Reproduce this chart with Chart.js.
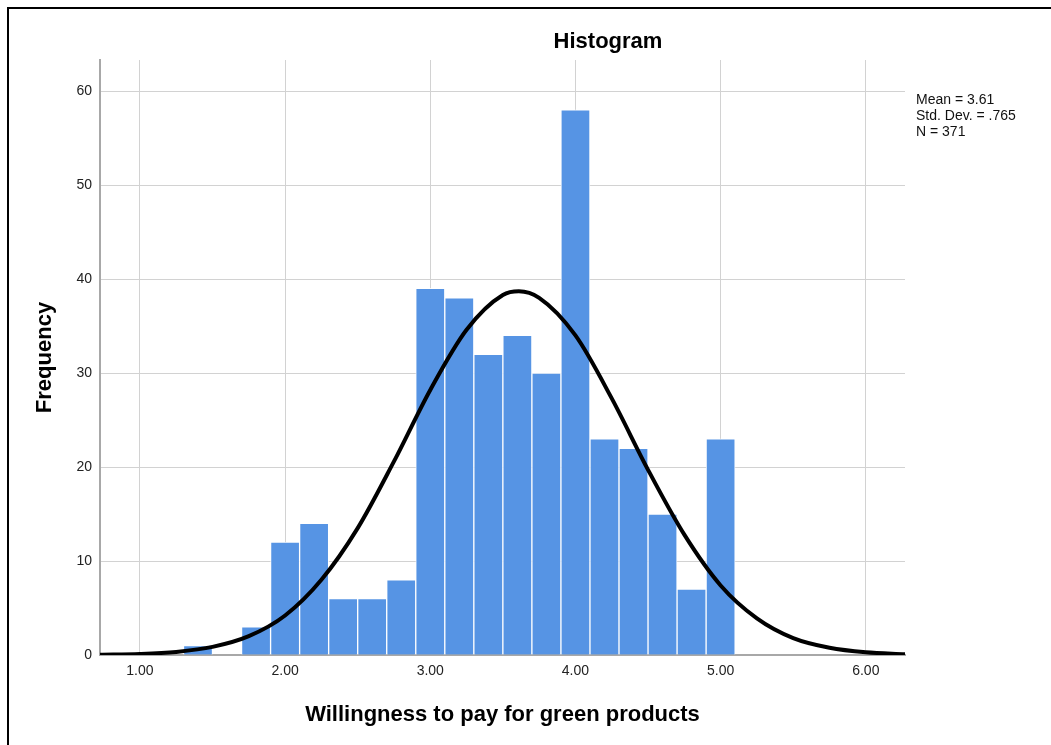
<!DOCTYPE html>
<html>
<head>
<meta charset="utf-8">
<script src="https://cdn.jsdelivr.net/npm/chart.js@4.4.1/dist/chart.umd.min.js"></script>
<style>
    html, body { margin: 0; padding: 0; background: #ffffff; }
    #wrap { position: relative; width: 1051px; height: 745px; overflow: hidden; }
    #frame {
        position: absolute; left: 7px; top: 7px;
        width: 1100px; height: 800px;
        border: 2px solid #000000;
        pointer-events: none;
    }
</style>
</head>
<body>
<div id="wrap">
    <canvas id="hist"></canvas>
    <div id="frame"></div>
</div>
<script>
// ========================================
// Data
// ========================================
const binCenters = [1.4, 1.6, 1.8, 2.0, 2.2, 2.4, 2.6, 2.8, 3.0, 3.2, 3.4, 3.6, 3.8, 4.0, 4.2, 4.4, 4.6, 4.8, 5.0];
const binCounts  = [1,   0,   3,   12,  14,  6,   6,   8,   39,  38,  32,  34,  30,  58,  23,  22,  15,  7,   23];

// normal curve, points
const curveX = [0.725, 1.0, 1.25, 1.5, 1.75, 2.0, 2.25, 2.5, 2.75, 3.0, 3.25, 3.5, 3.61, 3.75, 4.0, 4.25, 4.5, 4.75, 5.0, 5.25, 5.5, 5.75, 6.0, 6.27];
const curveY = [0.03, 0.11, 0.33, 0.86, 2.0, 4.2, 8.0, 13.5, 20.6, 28.2, 34.6, 38.3, 38.7, 38.0, 34.0, 27.3, 19.7, 12.8, 7.4, 3.9, 1.8, 0.77, 0.29, 0.09];

const xTicks = [1, 2, 3, 4, 5, 6];
const yTicks = [0, 10, 20, 30, 40, 50, 60];

const statLines = ['Mean = 3.61', 'Std. Dev. = .765', 'N = 371'];

// ========================================
// Styling
// ========================================
const FONT = "'Liberation Sans', Arial, sans-serif";
const BAR_COLOR = '#5694e4';
const GRID_COLOR = '#d2d2d2';
const AXIS_COLOR = '#a8a8a8';

// ========================================
// Title + stats box plugin
// ========================================
const annotations = {
    id: 'annotations',
    afterDraw(chart) {
        const ctx = chart.ctx;
        ctx.save();
        ctx.fillStyle = '#000000';
        ctx.font = `bold 22px ${FONT}`;
        ctx.textAlign = 'center';
        ctx.textBaseline = 'middle';
        ctx.fillText('Histogram', 608, 42);

        ctx.font = `14px ${FONT}`;
        ctx.textAlign = 'left';
        ctx.fillStyle = '#111111';
        statLines.forEach((line, i) => {
            ctx.fillText(line, 916, 100 + i * 16);
        });
        ctx.restore();
    }
};

// ========================================
// Chart
// ========================================
const bars = binCenters.map((x, i) => ({ x: x, y: binCounts[i] }));
const curve = curveX.map((x, i) => ({ x: x, y: curveY[i] }));

new Chart(document.getElementById('hist').getContext('2d'), {
    type: 'bar',
    data: {
        datasets: [
            {
                type: 'line',
                data: curve,
                borderColor: '#000000',
                borderWidth: 4,
                pointRadius: 0,
                cubicInterpolationMode: 'monotone',
                fill: false,
                order: 0
            },
            {
                type: 'bar',
                data: bars,
                backgroundColor: BAR_COLOR,
                borderColor: 'rgba(255, 255, 255, 0.85)',
                borderWidth: 1,
                borderSkipped: 'bottom',
                barPercentage: 1.0,
                categoryPercentage: 1.0,
                order: 1
            }
        ]
    },
    options: {
        responsive: true,
        maintainAspectRatio: false,
        animation: false,
        layout: { padding: { top: 60, right: 146, left: 0, bottom: 0 } },
        plugins: {
            legend: { display: false },
            tooltip: { enabled: false },
            title: { display: false }
        },
        scales: {
            x: {
                type: 'linear',
                min: 0.725,
                max: 6.27,
                offset: false,
                afterBuildTicks: scale => { scale.ticks = xTicks.map(v => ({ value: v })); },
                afterFit: scale => { scale.height = 90; },
                ticks: {
                    color: '#222222',
                    font: { family: FONT, size: 14 },
                    padding: 8,
                    maxRotation: 0,
                    callback: v => Number(v).toFixed(2)
                },
                grid: { color: GRID_COLOR, lineWidth: 1, drawTicks: false, offset: false },
                border: { color: AXIS_COLOR, width: 2 },
                title: {
                    display: true,
                    text: 'Willingness to pay for green products',
                    color: '#000000',
                    font: { family: FONT, size: 22, weight: 'bold' },
                    padding: { top: 0, bottom: 17 }
                }
            },
            y: {
                min: 0,
                max: 63.3,
                afterBuildTicks: scale => { scale.ticks = yTicks.map(v => ({ value: v })); },
                afterFit: scale => { scale.width = 100; },
                ticks: {
                    color: '#222222',
                    font: { family: FONT, size: 14 },
                    padding: 8
                },
                grid: { color: GRID_COLOR, lineWidth: 1, drawTicks: false },
                border: { color: AXIS_COLOR, width: 2 },
                title: {
                    display: true,
                    text: 'Frequency',
                    color: '#000000',
                    font: { family: FONT, size: 22, weight: 'bold' },
                    padding: { top: 32, bottom: 0 }
                }
            }
        }
    },
    plugins: [annotations]
});
</script>
</body>
</html>
